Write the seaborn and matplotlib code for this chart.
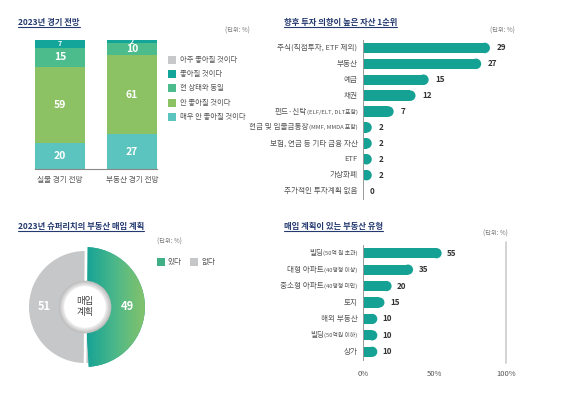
import numpy as np
import matplotlib
matplotlib.use("Agg")
import matplotlib.pyplot as plt
import seaborn as sns
from matplotlib.patches import Ellipse, Rectangle, Circle
from matplotlib.lines import Line2D
from matplotlib.colors import LinearSegmentedColormap

# --- data -------------------------------------------------------------
outlook_groups = ['실물 경기 전망', '부동산 경기 전망']
outlook_series = ['매우 안 좋아질 것이다', '안 좋아질 것이다', '현 상태와 동일', '좋아질 것이다', '아주 좋아질 것이다']
outlook_very_bad = [20, 27]
outlook_bad = [59, 61]
outlook_same = [15, 10]
outlook_good = [7, 2]
outlook_very_good = [0, 0]

asset_labels = ['주식(직접투자, ETF 제외)', '부동산', '예금', '채권', '펀드·신탁(ELF/ELT, DLT포함)',
                '현금 및 입출금통장(MMF, MMDA 포함)', '보험, 연금 등 기타 금융 자산', 'ETF', '가상화폐',
                '추가적인 투자계획 없음']
asset_values = [29, 27, 15, 12, 7, 2, 2, 2, 2, 0]

plan_labels = ['있다', '없다']
plan_values = [49, 51]

type_labels = ['빌딩(50억 원 초과)', '대형 아파트(40평형 이상)', '중소형 아파트(40평형 미만)', '토지',
               '해외 부동산', '빌딩(50억원 이하)', '상가']
type_values = [55, 35, 20, 15, 10, 10, 10]
type_ticks = [0, 50, 100]

# --- style ------------------------------------------------------------
sns.set_theme(style="white")
plt.rcParams['font.family'] = ['Noto Sans CJK KR', 'DejaVu Sans']

W, H = 570, 396
NAVY = '#23396f'
TEXT = '#555555'
TEAL = '#15a295'
seg_colors = ['#5cc4be', '#8cc164', '#4dbc8d', '#13a49a', '#c7c8ca']
small_paren = {'주식(직접투자, ETF 제외)': False}

fig = plt.figure(figsize=(W / 100, H / 100), dpi=100)
renderer = fig.canvas.get_renderer()


def px_axes(left, top, right, bottom):
    return fig.add_axes([left / W, 1 - bottom / H, (right - left) / W, (bottom - top) / H])


def title(x, y, s):
    t = fig.text(x / W, 1 - y / H, s, fontsize=6, fontweight='bold', color=NAVY, va='center')
    bb = t.get_window_extent(renderer)
    fig.add_artist(Line2D([x / W, (x + bb.width) / W], [1 - (y + 5) / H] * 2,
                          color=NAVY, lw=0.8, transform=fig.transFigure))


def unit(x, y, ha='left'):
    fig.text(x / W, 1 - y / H, '(단위: %)', fontsize=4.5, color='#777777', va='center', ha=ha)


def round_bars(ax):
    # shorten each bar by half its height and put a round cap on the end
    bbox = ax.get_window_extent(renderer)
    x0, x1 = ax.get_xlim()
    y0, y1 = ax.get_ylim()
    sx = (x1 - x0) / bbox.width
    sy = abs(y1 - y0) / bbox.height
    for p in list(ax.patches):
        w, h = p.get_width(), p.get_height()
        if w <= 0:
            p.remove()
            continue
        r = abs(h) / 2 * sx / sy
        x, y = p.get_x(), p.get_y()
        p.set_width(max(w - r, 0))
        ax.add_patch(Ellipse((x + w - r, y + h / 2), 2 * r, abs(h),
                             fc=p.get_facecolor(), ec='none'))


def ylabels(ax, labels, size=5.5, small=4.2):
    for i, lab in enumerate(labels):
        main, paren = lab, ''
        if '(' in lab and small_paren.get(lab, True):
            k = lab.index('(')
            main, paren = lab[:k], lab[k:]
        off = -4
        if paren:
            t = ax.annotate(paren, xy=(0, i), xycoords=ax.get_yaxis_transform(),
                            xytext=(off, 0), textcoords='offset points',
                            ha='right', va='center', fontsize=small, color=TEXT)
            off -= t.get_window_extent(renderer).width * 72 / 100
        ax.annotate(main, xy=(0, i), xycoords=ax.get_yaxis_transform(),
                    xytext=(off, 0), textcoords='offset points',
                    ha='right', va='center', fontsize=size, color=TEXT)


# --- panel 1: stacked outlook bars ------------------------------------
ax1 = px_axes(35, 40, 157, 169)
stack = [outlook_very_bad, outlook_bad, outlook_same, outlook_good, outlook_very_good]
bottom = np.zeros(2)
for vals, col in zip(stack, seg_colors):
    sns.barplot(x=outlook_groups, y=vals, bottom=bottom, color=col, width=0.7,
                saturation=1, ax=ax1, linewidth=0)
    for i, v in enumerate(vals):
        if v > 0:
            fs = 7.5 if v >= 10 else 5
            ax1.text(i, bottom[i] + v / 2, str(v), ha='center', va='center',
                     color='white', fontsize=fs, fontweight='bold')
    bottom = bottom + np.array(vals)
ax1.set_xlim(-0.35, 1.35)
ax1.set_ylim(0, 100)
ax1.set_yticks([])
ax1.set_ylabel('')
sns.despine(ax=ax1, left=True)
ax1.spines['bottom'].set_color('#888888')
ax1.spines['bottom'].set_linewidth(0.8)
ax1.tick_params(axis='x', length=0, pad=5, labelsize=5.5, labelcolor=TEXT)

for j, (name, col) in enumerate(zip(outlook_series[::-1], seg_colors[::-1])):
    yy = 60 + j * 14.2
    fig.add_artist(Rectangle((168 / W, 1 - (yy + 4) / H), 8 / W, 8 / H,
                             fc=col, ec='none', transform=fig.transFigure))
    fig.text(180 / W, 1 - yy / H, name, fontsize=5.3, color=TEXT, va='center')

title(18, 22, '2023년 경기 전망')
unit(250, 31, ha='right')

# --- panel 2: asset preference ----------------------------------------
ax2 = px_axes(363, 40, 560, 199)
sns.barplot(x=asset_values, y=asset_labels, orient='h', color=TEAL, saturation=1,
            width=0.66, ax=ax2, linewidth=0)
ax2.set_xlim(0, 45)
ax2.set_ylim(9.5, -0.5)
round_bars(ax2)
for i, v in enumerate(asset_values):
    ax2.annotate(str(v), xy=(v, i), xytext=(5, 0), textcoords='offset points',
                 ha='left', va='center', fontsize=5.8, color='#333333', fontweight='bold')
ax2.set_xticks([])
ax2.set_yticks(range(len(asset_labels)))
ax2.set_yticklabels([])
ax2.tick_params(length=0)
ax2.set_xlabel('')
ax2.set_ylabel('')
sns.despine(ax=ax2, bottom=True)
ax2.spines['left'].set_color('#999999')
ax2.spines['left'].set_linewidth(0.7)
ylabels(ax2, asset_labels)
title(284, 22, '향후 투자 의향이 높은 자산 1순위')
unit(515, 31, ha='right')

# --- panel 3: purchase plan donut -------------------------------------
ax3 = px_axes(15, 237, 155, 377)
wedges_a, _ = ax3.pie(plan_values, radius=1.07, startangle=90, counterclock=False,
                      colors=[TEAL, 'none'],
                      wedgeprops=dict(width=0.62, edgecolor='none'))
wedges_b, _ = ax3.pie(plan_values, radius=1.0, startangle=90, counterclock=False,
                      colors=['none', '#c6c7c9'],
                      wedgeprops=dict(width=0.55, edgecolor='none'))
grad = np.linspace(0, 1, 256).reshape(1, -1)
cmap = LinearSegmentedColormap.from_list('tg', ['#12a196', '#4db889', '#86c36a'])
img = ax3.imshow(grad, extent=[0.0, 1.08, -1.1, 1.1], cmap=cmap, aspect='auto', zorder=2)
img.set_clip_path(wedges_a[0])
ax3.plot([0.02, 0.0], [1.1, -1.1], color='white', lw=2, zorder=3)
for rr, c in zip(np.linspace(0.47, 0.38, 8), sns.light_palette('#bdbdbd', 8, reverse=True)):
    ax3.add_patch(Circle((0, 0), rr, fc=c, ec='none', zorder=4))
ax3.add_patch(Circle((0, 0), 0.37, fc='white', ec='none', zorder=5))
ax3.text(0, 0, '매입\n계획', ha='center', va='center', fontsize=6.8, color='#444444',
         linespacing=1.15, zorder=6)
ax3.text(0.76, 0, str(plan_values[0]), ha='center', va='center', color='white',
         fontsize=8, fontweight='bold', zorder=6)
ax3.text(-0.72, 0, str(plan_values[1]), ha='center', va='center', color='white',
         fontsize=8, fontweight='bold', zorder=6)
ax3.set_xlim(-1.25, 1.25)
ax3.set_ylim(-1.25, 1.25)
ax3.set_aspect('equal')
ax3.axis('off')

leg_x = [157, 190]
for lab, col, lx in zip(plan_labels, ['#3fb086', '#c6c7c9'], leg_x):
    fig.add_artist(Rectangle((lx / W, 1 - 266 / H), 8 / W, 8 / H, fc=col, ec='none',
                             transform=fig.transFigure))
    fig.text((lx + 11) / W, 1 - 262 / H, lab, fontsize=5.5, color=TEXT, va='center')
title(18, 226, '2023년 슈퍼리치의 부동산 매입 계획')
unit(157, 242)

# --- panel 4: property types ------------------------------------------
ax4 = px_axes(363, 245, 506, 360)
sns.barplot(x=type_values, y=type_labels, orient='h', color=TEAL, saturation=1,
            width=0.62, ax=ax4, linewidth=0)
ax4.set_xlim(0, 100)
ax4.set_ylim(6.5, -0.5)
round_bars(ax4)
for i, v in enumerate(type_values):
    ax4.annotate(str(v), xy=(v, i), xytext=(4, 0), textcoords='offset points',
                 ha='left', va='center', fontsize=5.8, color='#333333', fontweight='bold')
ax4.axvline(100, color='#cccccc', lw=1.2, ymin=-0.03, ymax=1.03, clip_on=False)
ax4.set_xticks(type_ticks)
ax4.set_xticklabels([f'{t}%' for t in type_ticks])
ax4.set_yticks(range(len(type_labels)))
ax4.set_yticklabels([])
ax4.tick_params(length=0)
ax4.tick_params(axis='x', pad=7, labelsize=5.5, labelcolor=TEXT)
ax4.set_xlabel('')
ax4.set_ylabel('')
sns.despine(ax=ax4, bottom=True)
ax4.spines['left'].set_color('#999999')
ax4.spines['left'].set_linewidth(0.7)
ylabels(ax4, type_labels)
title(284, 226, '매입 계획이 있는 부동산 유형')
unit(508, 234, ha='right')

fig.savefig('out.png', dpi=100)
